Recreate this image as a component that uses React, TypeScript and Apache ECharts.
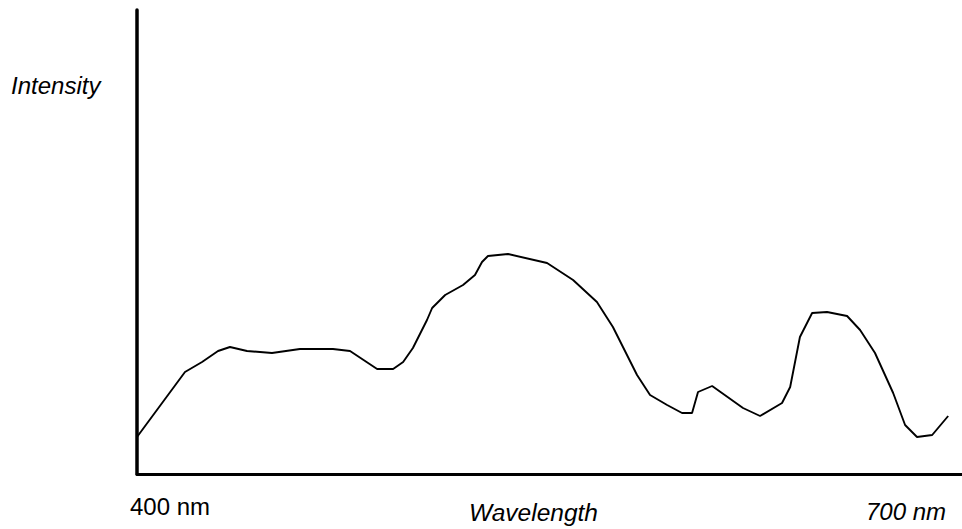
import React, { useEffect, useRef } from "react";
import * as echarts from "echarts";

// wavelength (nm)
const wavelengths: number[] = [
  400, 417.7, 424, 429.9, 434.3, 440.6, 449.8, 460.1, 472.3, 478.6, 488.6, 494.5,
  498.2, 501.8, 507,
  508.9, 513.7, 520.3, 524.7, 527.3, 529.5, 536.9, 551.3, 560.9, 569.7, 575.6,
  584.5, 589.3, 595.6, 601.1, 604.8, 607,
  612.2, 623.6, 629.9, 638, 641, 644.6, 649.1, 654.6, 662, 666.8, 672.3, 679,
  683.4, 687.8, 693.4, 699.3,
];
// intensity (arbitrary units, 0 = baseline)
const intensity: number[] = [
  37, 102, 112, 123, 127, 123, 121, 125, 125, 123, 105, 105, 112, 126, 154,
  166, 179, 189, 199, 212, 218, 220, 211, 194, 172, 147, 99, 79, 69, 61, 61, 82,
  88, 66, 58, 71, 87, 137, 161, 162, 158, 144, 121, 81, 49, 37, 39, 58,
];

const xMin = 400;
const xMax = 704.4;
const yMin = 0;
const yMax = 464;

const labelFont = "'Liberation Sans', Arial, sans-serif";

export default function App() {
  const ref = useRef<HTMLDivElement>(null);
  useEffect(() => {
    if (!ref.current) return;
    const chart = echarts.init(ref.current, undefined, { renderer: "svg" });
    const data = wavelengths.map((w, i) => [w, intensity[i]]);
    chart.setOption({
      animation: false,
      backgroundColor: "#ffffff",
      grid: { left: 137, right: 0, top: 10, bottom: 55, containLabel: false },
      xAxis: {
        type: "value",
        min: xMin,
        max: xMax,
        axisLine: { show: true, lineStyle: { color: "#000", width: 3 } },
        axisTick: { show: false },
        axisLabel: { show: false },
        splitLine: { show: false },
      },
      yAxis: {
        type: "value",
        min: yMin,
        max: yMax,
        axisLine: { show: true, onZero: false, lineStyle: { color: "#000", width: 3.5 } },
        axisTick: { show: false },
        axisLabel: { show: false },
        splitLine: { show: false },
      },
      series: [
        {
          type: "line",
          data,
          showSymbol: false,
          symbol: "none",
          smooth: false,
          lineStyle: { color: "#000", width: 1.9 },
          z: 3,
        },
      ],
      graphic: [
        {
          type: "text",
          left: 11,
          top: 73,
          style: {
            text: "Intensity",
            font: `italic 24px ${labelFont}`,
            fill: "#000",
          },
        },
        {
          type: "text",
          left: 130,
          top: 494,
          style: {
            text: "400 nm",
            font: `24px ${labelFont}`,
            fill: "#000",
          },
        },
        {
          type: "text",
          left: 469,
          top: 500,
          style: {
            text: "Wavelength",
            font: `italic 24.5px ${labelFont}`,
            fill: "#000",
          },
        },
        {
          type: "text",
          left: 866,
          top: 499,
          style: {
            text: "700 nm",
            font: `italic 24px ${labelFont}`,
            fill: "#000",
          },
        },
      ],
    });
    return () => chart.dispose();
  }, []);
  return (
    <div
      ref={ref}
      style={{ position: "fixed", left: 0, top: 0, width: 962, height: 529, background: "#fff" }}
    />
  );
}
